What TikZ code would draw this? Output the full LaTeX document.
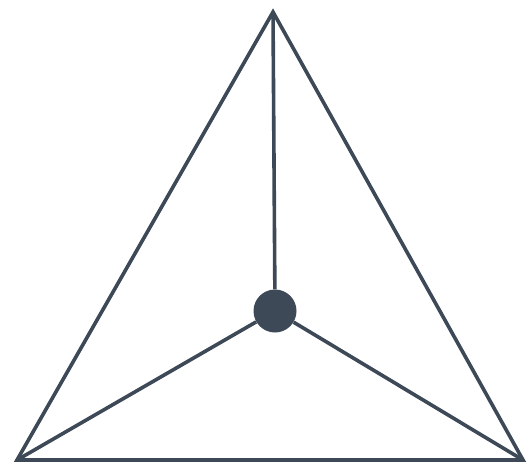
\documentclass[tikz,border=0pt]{standalone}
\definecolor{ink}{HTML}{3D4957}
\begin{document}
\begin{tikzpicture}[x=1pt,y=-1pt,
  edge/.style={draw=ink,line width=3.6pt,line join=miter},
  hub/.style={circle,fill=ink,inner sep=0pt,minimum size=43pt}]
\useasboundingbox[fill=white] (0,0) rectangle (529,465);
\coordinate (top) at (273,12);
\coordinate (bl) at (17,460);
\coordinate (br) at (523,460);
\node[hub] (c) at (275,311) {};
\draw[edge] (top) -- (bl) -- (br) -- cycle;
\draw[edge] (c) -- (top);
\draw[edge] (c) -- (bl);
\draw[edge] (c) -- (br);
\end{tikzpicture}
\end{document}
